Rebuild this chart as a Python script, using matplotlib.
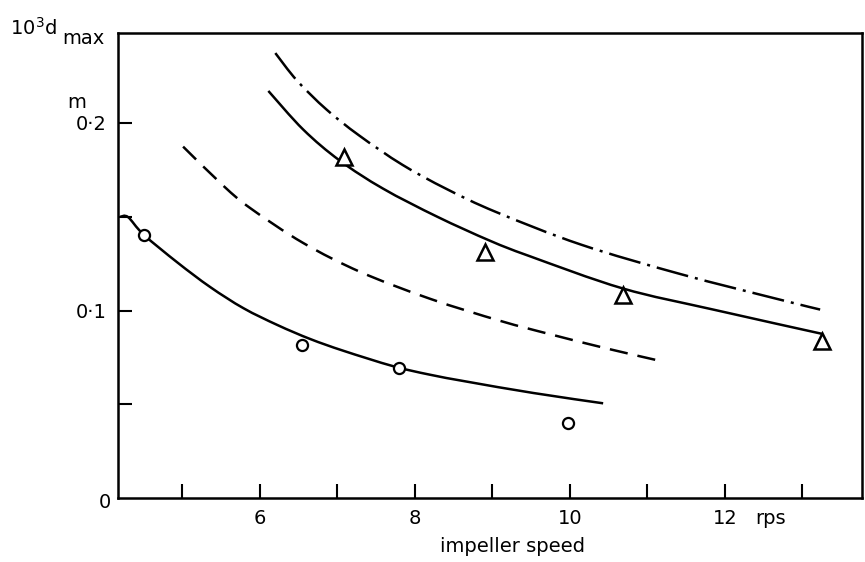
import numpy as np
import matplotlib.pyplot as plt
from matplotlib.path import Path
from matplotlib.patches import PathPatch

plt.rcParams['font.family'] = 'DejaVu Sans'
plt.rcParams['mathtext.fontset'] = 'dejavusans'

# measured points
circ_x = [4.50, 6.55, 7.79, 9.97]
circ_y = [0.1405, 0.0815, 0.0692, 0.0401]
tri_x = [7.08, 8.91, 10.68, 13.26]
tri_y = [0.1819, 0.1312, 0.1085, 0.0838]

# drawn curves
low_x = [4.20, 4.30, 4.50, 4.94, 5.36, 5.79, 6.23, 6.65, 7.08, 7.72, 8.19, 8.68, 9.53, 10.43]
low_y = [0.1500, 0.1498, 0.1405, 0.1255, 0.1125, 0.1012, 0.0922, 0.0848, 0.0785, 0.0703, 0.0658, 0.0620, 0.0560, 0.0505]
dash_x = [5.01, 5.53, 5.88, 6.56, 7.30, 8.20, 9.10, 9.75, 10.48, 11.21]
dash_y = [0.1874, 0.1665, 0.1545, 0.1360, 0.1205, 0.1062, 0.0945, 0.0873, 0.0797, 0.0727]
up_x = [6.11, 6.56, 7.03, 7.59, 8.29, 8.97, 9.48, 10.68, 11.85, 13.26]
up_y = [0.2171, 0.1965, 0.1800, 0.1650, 0.1500, 0.1372, 0.1290, 0.1118, 0.1005, 0.0875]
dd_x = [6.20, 6.48, 6.86, 7.28, 7.84, 8.41, 9.05, 10.14, 11.43, 12.72, 13.23]
dd_y = [0.2373, 0.2226, 0.2072, 0.1934, 0.1777, 0.1648, 0.1525, 0.1352, 0.1194, 0.1057, 0.1005]

x_ticks = [5, 6, 7, 8, 9, 10, 11, 12, 13]
x_labels = ['', '6', '', '8', '', '10', '', '12', '']
y_ticks = [0.05, 0.1, 0.15, 0.2]
y_labels = ['', '0·1', '', '0·2']


def smooth_path(xs, ys, ax):
    # catmull-rom through the read points, drawn as cubic bezier segments in pixel space
    pts = ax.transData.transform(np.column_stack([xs, ys]))
    verts = [pts[0]]
    codes = [Path.MOVETO]
    n = len(pts)
    for i in range(n - 1):
        p0 = pts[max(i - 1, 0)]
        p1 = pts[i]
        p2 = pts[i + 1]
        p3 = pts[min(i + 2, n - 1)]
        c1 = p1 + (p2 - p0) / 6
        c2 = p2 - (p3 - p1) / 6
        verts += [c1, c2, p2]
        codes += [Path.CURVE4] * 3
    verts = ax.transData.inverted().transform(np.array(verts))
    return Path(verts, codes)


fig = plt.figure(figsize=(8.65, 5.62), dpi=100)
ax = fig.add_axes([118/865, 1-498/562, (862-118)/865, (498-33)/562])
ax.set_xlim(4.17, 13.77)
ax.set_ylim(0, 0.248)

lw = 1.8
styles = [(low_x, low_y, '-'), (dash_x, dash_y, (0, (7.3, 4))),
          (up_x, up_y, '-'), (dd_x, dd_y, (0, (13, 2.8, 1.2, 2.8)))]
for xs, ys, ls in styles:
    ax.add_patch(PathPatch(smooth_path(xs, ys, ax), fill=False, lw=lw,
                           edgecolor='black', linestyle=ls, capstyle='butt'))

ax.plot(circ_x, circ_y, 'o', ms=8, mfc='white', mec='black', mew=1.6)
ax.plot(tri_x, tri_y, '^', ms=11, mfc='white', mec='black', mew=1.8)

ax.set_xticks(x_ticks)
ax.set_xticklabels(x_labels)
ax.set_yticks(y_ticks)
ax.set_yticklabels(y_labels)
ax.tick_params(direction='in', length=10, width=1.5, labelsize=14, pad=8)
for s in ax.spines.values():
    s.set_linewidth(1.8)

fig.text(755/865, 1-518/562, 'rps', fontsize=14, ha='left', va='center')
fig.text(513/865, 1-546/562, 'impeller speed', fontsize=14, ha='center', va='center')
fig.text(111/865, 1-502/562, '0', fontsize=14, ha='right', va='center')
fig.text(10/865, 1-28/562, r'$10^3$d', fontsize=14, va='center', ha='left')
fig.text(62/865, 1-39/562, 'max', fontsize=14, va='center', ha='left')
fig.text(77/865, 1-103/562, 'm', fontsize=14, va='center', ha='center')

fig.savefig('out.png', dpi=100)
